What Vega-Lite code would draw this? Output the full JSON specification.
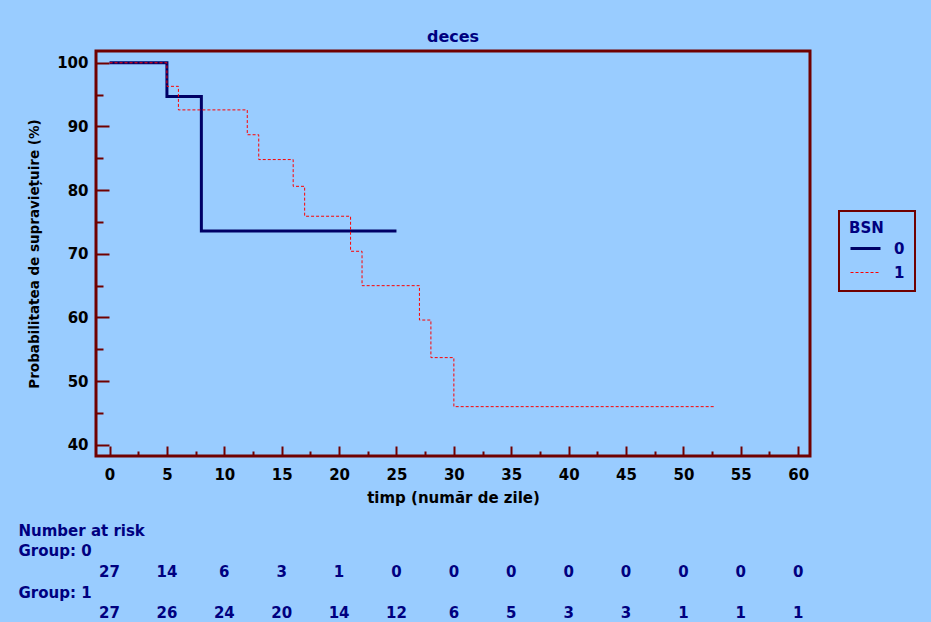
{
  "$schema": "https://vega.github.io/schema/vega-lite/v6.json",
  "background": "#99ccff",
  "padding": {"left": 18, "top": 27, "right": 17, "bottom": 1},
  "config": {"view": {"stroke": null}, "font": "DejaVu Sans", "legend": {"strokeWidth": 2}},
  "spacing": 16,
  "vconcat": [
    {
      "width": 714,
      "height": 405,
      "view": {"stroke": "#700000", "strokeWidth": 3},
      "title": {"text": "deces", "color": "#000080", "fontSize": 16, "fontWeight": "bold", "font": "DejaVu Sans", "offset": 6},
      "data": {"values": [
        {"BSN": "0", "t": 0, "s": 100},
        {"BSN": "0", "t": 5, "s": 94.7},
        {"BSN": "0", "t": 8, "s": 73.6},
        {"BSN": "0", "t": 25, "s": 73.6},
        {"BSN": "1", "t": 0, "s": 100},
        {"BSN": "1", "t": 5, "s": 96.3},
        {"BSN": "1", "t": 6, "s": 92.6},
        {"BSN": "1", "t": 12, "s": 88.7},
        {"BSN": "1", "t": 13, "s": 84.8},
        {"BSN": "1", "t": 16, "s": 80.6},
        {"BSN": "1", "t": 17, "s": 75.9},
        {"BSN": "1", "t": 21, "s": 70.4},
        {"BSN": "1", "t": 22, "s": 65.0},
        {"BSN": "1", "t": 27, "s": 59.6},
        {"BSN": "1", "t": 28, "s": 53.7},
        {"BSN": "1", "t": 30, "s": 46.0},
        {"BSN": "1", "t": 52.8, "s": 46.0}
      ]},
      "mark": {"type": "line", "interpolate": "step-after", "clip": false},
      "encoding": {
        "x": {
          "field": "t", "type": "quantitative",
          "scale": {"domain": [-1.18, 61.03], "nice": false, "zero": false},
          "axis": {
            "values": [0, 2.5, 5, 7.5, 10, 12.5, 15, 17.5, 20, 22.5, 25, 27.5, 30, 32.5, 35, 37.5, 40, 42.5, 45, 47.5, 50, 52.5, 55, 57.5, 60],
            "labelExpr": "datum.value % 5 === 0 ? datum.label : ''",
            "tickSize": {"condition": {"test": "datum.value % 5 === 0", "value": -10}, "value": -5},
            "tickColor": "#700000", "tickWidth": 2,
            "domain": false, "grid": false,
            "labelOverlap": false, "labelFlush": false,
            "labelFont": "DejaVu Sans", "labelFontSize": 15, "labelFontWeight": "bold", "labelColor": "#000000",
            "labelPadding": 21,
            "title": "timp (număr de zile)",
            "titleFont": "DejaVu Sans", "titleFontSize": 15, "titleFontWeight": "bold", "titleColor": "#000000",
            "titlePadding": 3
          }
        },
        "y": {
          "field": "s", "type": "quantitative",
          "scale": {"domain": [38.25, 101.85], "nice": false, "zero": false},
          "axis": {
            "values": [40, 45, 50, 55, 60, 65, 70, 75, 80, 85, 90, 95, 100],
            "labelExpr": "datum.value % 10 === 0 ? datum.label : ''",
            "tickSize": {"condition": {"test": "datum.value % 10 === 0", "value": -13}, "value": -7},
            "tickColor": "#700000", "tickWidth": 2,
            "domain": false, "grid": false,
            "labelOverlap": false, "labelFlush": false,
            "labelFont": "DejaVu Sans", "labelFontSize": 15, "labelFontWeight": "bold", "labelColor": "#000000",
            "labelPadding": 21,
            "title": "Probabilitatea de supraviețuire (%)",
            "titleFont": "DejaVu Sans", "titleFontSize": 13.5, "titleFontWeight": "bold", "titleColor": "#000000",
            "titlePadding": 15
          }
        },
        "color": {
          "field": "BSN", "type": "ordinal",
          "scale": {"domain": ["0", "1"], "range": ["#000066", "#ff0000"]},
          "legend": {
            "orient": "none", "legendX": 743, "legendY": 160,
            "title": "BSN", "titleColor": "#000080", "titleFont": "DejaVu Sans", "titleFontSize": 15, "titleFontWeight": "bold",
            "labelColor": "#000080", "labelFont": "DejaVu Sans", "labelFontSize": 15, "labelFontWeight": "bold",
            "strokeColor": "#700000", "padding": 10,
            "symbolType": "stroke", "symbolSize": 900, "labelOffset": 12, "rowPadding": 0, "titlePadding": -4
          }
        },
        "strokeDash": {
          "field": "BSN", "type": "ordinal",
          "scale": {"domain": ["0", "1"], "range": [[1, 0], [3, 2]]}
        },
        "strokeWidth": {
          "field": "BSN", "type": "ordinal",
          "scale": {"domain": ["0", "1"], "range": [3, 1]}
        }
      }
    },
    {
      "width": 714,
      "height": 83,
      "data": {"values": [
        {"row": "n0", "t": 0, "n": 27}, {"row": "n0", "t": 5, "n": 14}, {"row": "n0", "t": 10, "n": 6},
        {"row": "n0", "t": 15, "n": 3}, {"row": "n0", "t": 20, "n": 1}, {"row": "n0", "t": 25, "n": 0},
        {"row": "n0", "t": 30, "n": 0}, {"row": "n0", "t": 35, "n": 0}, {"row": "n0", "t": 40, "n": 0},
        {"row": "n0", "t": 45, "n": 0}, {"row": "n0", "t": 50, "n": 0}, {"row": "n0", "t": 55, "n": 0},
        {"row": "n0", "t": 60, "n": 0},
        {"row": "n1", "t": 0, "n": 27}, {"row": "n1", "t": 5, "n": 26}, {"row": "n1", "t": 10, "n": 24},
        {"row": "n1", "t": 15, "n": 20}, {"row": "n1", "t": 20, "n": 14}, {"row": "n1", "t": 25, "n": 12},
        {"row": "n1", "t": 30, "n": 6}, {"row": "n1", "t": 35, "n": 5}, {"row": "n1", "t": 40, "n": 3},
        {"row": "n1", "t": 45, "n": 3}, {"row": "n1", "t": 50, "n": 1}, {"row": "n1", "t": 55, "n": 1},
        {"row": "n1", "t": 60, "n": 1}
      ]},
      "mark": {"type": "text", "font": "DejaVu Sans", "fontSize": 15, "fontWeight": "bold", "color": "#000080", "baseline": "middle", "align": "center"},
      "encoding": {
        "x": {"field": "t", "type": "quantitative", "scale": {"domain": [-1.18, 61.03], "nice": false, "zero": false}, "axis": null},
        "y": {
          "field": "row", "type": "ordinal",
          "scale": {"type": "point", "domain": ["Number at risk", "Group: 0", "n0", "Group: 1", "n1"], "padding": 0},
          "axis": {
            "title": null, "domain": false, "ticks": false, "tickSize": 0, "grid": false,
            "labelAlign": "left", "labelBaseline": "middle", "labelPadding": 78,
            "labelExpr": "indexof(['n0','n1'], datum.value) >= 0 ? '' : datum.value",
            "labelColor": "#000080", "labelFont": "DejaVu Sans", "labelFontSize": 15, "labelFontWeight": "bold"
          }
        },
        "text": {"field": "n", "type": "nominal"}
      }
    }
  ]
}
